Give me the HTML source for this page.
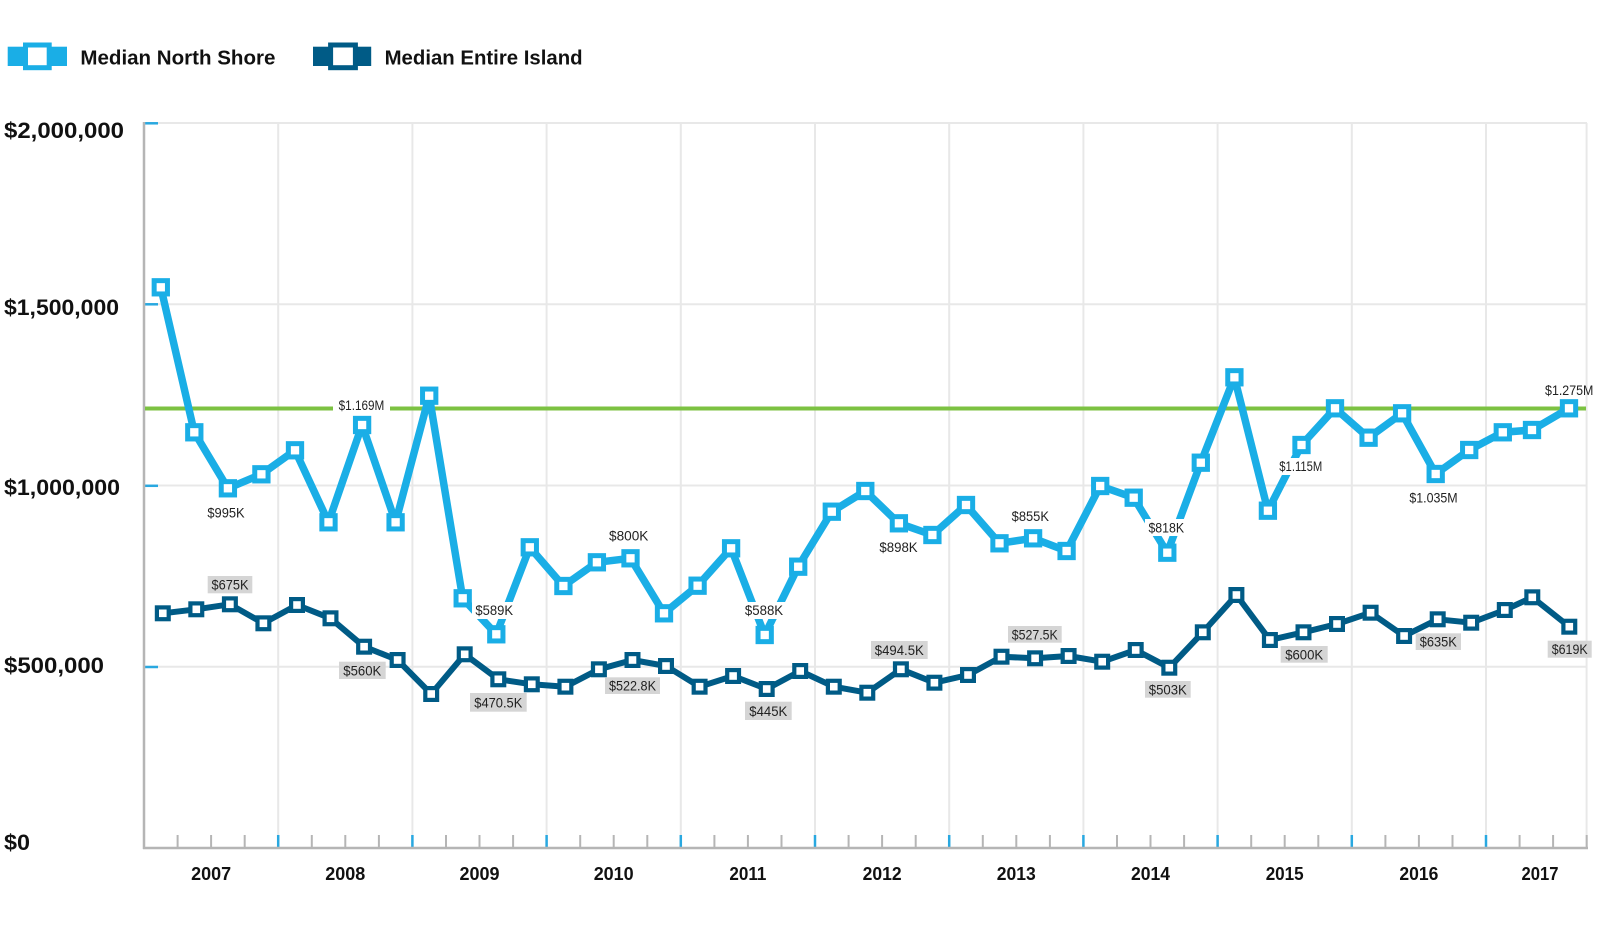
<!DOCTYPE html>
<html><head><meta charset="utf-8"><style>
html,body{margin:0;padding:0;background:#fff;}
svg{display:block;font-family:"Liberation Sans",Arial,sans-serif;}
</style></head><body>
<svg width="1600" height="927" viewBox="0 0 1600 927" xmlns="http://www.w3.org/2000/svg">
<defs>
<marker id="mL" markerWidth="30" markerHeight="30" refX="15" refY="15" markerUnits="userSpaceOnUse" overflow="visible"><rect x="8.35" y="8.35" width="13.3" height="13.3" fill="#fff" stroke="#1aaee6" stroke-width="5"/></marker>
<marker id="mD" markerWidth="30" markerHeight="30" refX="15" refY="15" markerUnits="userSpaceOnUse" overflow="visible"><rect x="9.1" y="9.1" width="11.8" height="11.8" fill="#fff" stroke="#005b86" stroke-width="4.2"/></marker>
</defs>
<rect width="1600" height="927" fill="#fff"/>

<!-- legend -->
<rect x="7.7" y="46.7" width="59.3" height="19.3" fill="#1aaee6"/>
<rect x="25.5" y="45" width="23.7" height="22.7" fill="#fff" stroke="#1aaee6" stroke-width="5"/>
<text x="80.4" y="64.3" font-size="20.5" font-weight="bold" fill="#111" textLength="195" lengthAdjust="spacingAndGlyphs">Median North Shore</text>
<rect x="313" y="46.7" width="58.2" height="19.3" fill="#005b86"/>
<rect x="330.6" y="45" width="24.8" height="22.7" fill="#fff" stroke="#005b86" stroke-width="5"/>
<text x="384.6" y="64.3" font-size="20.5" font-weight="bold" fill="#111" textLength="198" lengthAdjust="spacingAndGlyphs">Median Entire Island</text>

<!-- gridlines -->
<g stroke="#e8e8e8" stroke-width="2">
<line x1="144" y1="123" x2="1587" y2="123"/>
<line x1="144" y1="304.3" x2="1587" y2="304.3"/>
<line x1="144" y1="485.5" x2="1587" y2="485.5"/>
<line x1="144" y1="666.8" x2="1587" y2="666.8"/>
<line x1="278.2" y1="123" x2="278.2" y2="848"/>
<line x1="412.4" y1="123" x2="412.4" y2="848"/>
<line x1="546.6" y1="123" x2="546.6" y2="848"/>
<line x1="680.8" y1="123" x2="680.8" y2="848"/>
<line x1="815" y1="123" x2="815" y2="848"/>
<line x1="949.2" y1="123" x2="949.2" y2="848"/>
<line x1="1083.4" y1="123" x2="1083.4" y2="848"/>
<line x1="1217.6" y1="123" x2="1217.6" y2="848"/>
<line x1="1351.8" y1="123" x2="1351.8" y2="848"/>
<line x1="1486" y1="123" x2="1486" y2="848"/>
<line x1="1586.6" y1="123" x2="1586.6" y2="848"/>
</g>

<!-- y-axis blue ticks -->
<g stroke="#29a8e0" stroke-width="2.5">
<line x1="144" y1="123.3" x2="158" y2="123.3"/>
<line x1="144" y1="304.3" x2="158" y2="304.3"/>
<line x1="144" y1="485.8" x2="158" y2="485.8"/>
<line x1="144" y1="667" x2="158" y2="667"/>
</g>

<!-- x ticks -->
<g stroke="#b5b5b5" stroke-width="2">
<line x1="177.6" y1="835" x2="177.6" y2="848"/><line x1="211.1" y1="835" x2="211.1" y2="848"/><line x1="244.7" y1="835" x2="244.7" y2="848"/>
<line x1="311.8" y1="835" x2="311.8" y2="848"/><line x1="345.3" y1="835" x2="345.3" y2="848"/><line x1="378.9" y1="835" x2="378.9" y2="848"/>
<line x1="446" y1="835" x2="446" y2="848"/><line x1="479.5" y1="835" x2="479.5" y2="848"/><line x1="513.1" y1="835" x2="513.1" y2="848"/>
<line x1="580.2" y1="835" x2="580.2" y2="848"/><line x1="613.7" y1="835" x2="613.7" y2="848"/><line x1="647.3" y1="835" x2="647.3" y2="848"/>
<line x1="714.4" y1="835" x2="714.4" y2="848"/><line x1="747.9" y1="835" x2="747.9" y2="848"/><line x1="781.5" y1="835" x2="781.5" y2="848"/>
<line x1="848.6" y1="835" x2="848.6" y2="848"/><line x1="882.1" y1="835" x2="882.1" y2="848"/><line x1="915.7" y1="835" x2="915.7" y2="848"/>
<line x1="982.8" y1="835" x2="982.8" y2="848"/><line x1="1016.3" y1="835" x2="1016.3" y2="848"/><line x1="1049.9" y1="835" x2="1049.9" y2="848"/>
<line x1="1117" y1="835" x2="1117" y2="848"/><line x1="1150.5" y1="835" x2="1150.5" y2="848"/><line x1="1184.1" y1="835" x2="1184.1" y2="848"/>
<line x1="1251.2" y1="835" x2="1251.2" y2="848"/><line x1="1284.7" y1="835" x2="1284.7" y2="848"/><line x1="1318.3" y1="835" x2="1318.3" y2="848"/>
<line x1="1385.4" y1="835" x2="1385.4" y2="848"/><line x1="1418.9" y1="835" x2="1418.9" y2="848"/><line x1="1452.5" y1="835" x2="1452.5" y2="848"/>
<line x1="1519.6" y1="835" x2="1519.6" y2="848"/><line x1="1553.1" y1="835" x2="1553.1" y2="848"/><line x1="1586.7" y1="835" x2="1586.7" y2="848"/>
</g>
<g stroke="#29a8e0" stroke-width="2.5">
<line x1="278.2" y1="835" x2="278.2" y2="848"/><line x1="412.4" y1="835" x2="412.4" y2="848"/><line x1="546.6" y1="835" x2="546.6" y2="848"/>
<line x1="680.8" y1="835" x2="680.8" y2="848"/><line x1="815" y1="835" x2="815" y2="848"/><line x1="949.2" y1="835" x2="949.2" y2="848"/>
<line x1="1083.4" y1="835" x2="1083.4" y2="848"/><line x1="1217.6" y1="835" x2="1217.6" y2="848"/><line x1="1351.8" y1="835" x2="1351.8" y2="848"/>
<line x1="1486" y1="835" x2="1486" y2="848"/>
</g>

<!-- axes -->
<line x1="144" y1="122" x2="144" y2="849" stroke="#b5b5b5" stroke-width="2.5"/>
<line x1="143" y1="848" x2="1588" y2="848" stroke="#b5b5b5" stroke-width="2.5"/>

<!-- y labels -->
<g font-size="22" font-weight="bold" fill="#111">
<text x="4" y="138" textLength="120" lengthAdjust="spacingAndGlyphs">$2,000,000</text>
<text x="4" y="315" textLength="115" lengthAdjust="spacingAndGlyphs">$1,500,000</text>
<text x="4" y="495" textLength="116" lengthAdjust="spacingAndGlyphs">$1,000,000</text>
<text x="4" y="673" textLength="100" lengthAdjust="spacingAndGlyphs">$500,000</text>
<text x="4" y="850" textLength="26" lengthAdjust="spacingAndGlyphs">$0</text>
</g>

<!-- x labels -->
<g font-size="18" font-weight="bold" fill="#111" text-anchor="middle">
<text x="211.1" y="880" textLength="40" lengthAdjust="spacingAndGlyphs">2007</text>
<text x="345.3" y="880" textLength="40" lengthAdjust="spacingAndGlyphs">2008</text>
<text x="479.5" y="880" textLength="40" lengthAdjust="spacingAndGlyphs">2009</text>
<text x="613.7" y="880" textLength="40" lengthAdjust="spacingAndGlyphs">2010</text>
<text x="747.9" y="880" textLength="37" lengthAdjust="spacingAndGlyphs">2011</text>
<text x="882.1" y="880" textLength="39" lengthAdjust="spacingAndGlyphs">2012</text>
<text x="1016.3" y="880" textLength="39" lengthAdjust="spacingAndGlyphs">2013</text>
<text x="1150.5" y="880" textLength="39" lengthAdjust="spacingAndGlyphs">2014</text>
<text x="1284.7" y="880" textLength="38" lengthAdjust="spacingAndGlyphs">2015</text>
<text x="1418.9" y="880" textLength="39" lengthAdjust="spacingAndGlyphs">2016</text>
<text x="1540" y="880" textLength="37" lengthAdjust="spacingAndGlyphs">2017</text>
</g>

<!-- green reference line -->
<line x1="145" y1="408.5" x2="1586" y2="408.5" stroke="#7cc242" stroke-width="4"/>

<!-- dark series -->
<polyline fill="none" stroke="#005b86" stroke-width="6" stroke-linejoin="round" marker-start="url(#mD)" marker-mid="url(#mD)" marker-end="url(#mD)" points="162.8,613.3 196.3,609.3 229.9,604.3 263.4,623.3 297,605 330.5,618.3 364.1,646.7 397.6,660 431.2,694 464.7,654.3 498.3,679.3 531.8,684.3 565.4,686.7 598.9,669.3 632.5,660 666,666 699.6,686.7 733.1,676 766.7,689 800.2,671 833.8,686.7 867.3,692.7 900.9,669.3 934.4,682.7 968,675 1001.5,656.7 1035.1,658.3 1068.6,656 1102.2,661.7 1135.7,650 1169.3,667.7 1202.8,632.3 1236.4,595 1269.9,640 1303.5,632.3 1337,624 1370.6,612.7 1404.1,636 1437.7,619.3 1471.2,622.7 1504.8,610 1532.3,597.3 1569.3,626.7"/>

<!-- light series line -->
<polyline fill="none" stroke="#1aaee6" stroke-width="7.5" stroke-linejoin="round" points="160.8,287.3 194.3,432.3 227.9,488.3 261.4,474.3 295,450.3 328.5,522.3 362.1,425 395.6,522.3 429.2,395.7 462.7,598.3 496.3,634.3 529.8,547.3 563.4,586 596.9,562.3 630.5,558.3 664,613.3 697.6,585.7 731.1,548.3 764.7,635 798.2,566.7 831.8,511.7 865.3,491 898.9,523.3 932.4,535 966,505 999.5,543.3 1033.1,538.3 1066.6,551 1100.2,486 1133.7,497.7 1167.3,552.7 1200.8,462.7 1234.4,377.3 1267.9,510.7 1301.5,445 1335,408.3 1368.6,437.7 1402.1,413.3 1435.7,474 1469.2,450 1502.8,432.3 1532,430 1569,408.3"/>

<!-- white label backgrounds -->
<g fill="#fff">
<rect x="333" y="397" width="57" height="17"/>
<rect x="472" y="602" width="45" height="17"/>
<rect x="742" y="602" width="45" height="17"/>
<rect x="1145" y="519" width="43" height="17"/>
<rect x="1277" y="458" width="48" height="17"/>
</g>

<!-- light markers -->
<polyline fill="none" stroke="none" marker-start="url(#mL)" marker-mid="url(#mL)" marker-end="url(#mL)" points="160.8,287.3 194.3,432.3 227.9,488.3 261.4,474.3 295,450.3 328.5,522.3 362.1,425 395.6,522.3 429.2,395.7 462.7,598.3 496.3,634.3 529.8,547.3 563.4,586 596.9,562.3 630.5,558.3 664,613.3 697.6,585.7 731.1,548.3 764.7,635 798.2,566.7 831.8,511.7 865.3,491 898.9,523.3 932.4,535 966,505 999.5,543.3 1033.1,538.3 1066.6,551 1100.2,486 1133.7,497.7 1167.3,552.7 1200.8,462.7 1234.4,377.3 1267.9,510.7 1301.5,445 1335,408.3 1368.6,437.7 1402.1,413.3 1435.7,474 1469.2,450 1502.8,432.3 1532,430 1569,408.3"/>

<!-- gray label boxes -->
<g fill="#d5d5d5">
<rect x="207.7" y="576" width="44.6" height="17.3"/>
<rect x="339" y="661.7" width="46.7" height="17.3"/>
<rect x="470" y="693" width="56.7" height="18.7"/>
<rect x="605" y="677.3" width="55" height="16.7"/>
<rect x="745" y="701.7" width="46.7" height="18.3"/>
<rect x="871" y="641" width="56.7" height="18"/>
<rect x="1008" y="626" width="53.7" height="16.7"/>
<rect x="1145" y="681" width="45.7" height="16.7"/>
<rect x="1280.7" y="646" width="47" height="16.7"/>
<rect x="1415.7" y="633.3" width="45.3" height="16.7"/>
<rect x="1547.7" y="640.7" width="44" height="17"/>
</g>

<!-- value labels -->
<g font-size="14" fill="#222" text-anchor="middle">
<text x="226" y="517.3" textLength="37.3" lengthAdjust="spacingAndGlyphs">$995K</text>
<text x="361.5" y="410" textLength="45.7" lengthAdjust="spacingAndGlyphs">$1.169M</text>
<text x="494.2" y="615" textLength="37.7" lengthAdjust="spacingAndGlyphs">$589K</text>
<text x="628.7" y="540.5" textLength="39.3" lengthAdjust="spacingAndGlyphs">$800K</text>
<text x="764" y="615" textLength="38.3" lengthAdjust="spacingAndGlyphs">$588K</text>
<text x="898.5" y="552" textLength="38.3" lengthAdjust="spacingAndGlyphs">$898K</text>
<text x="1030.3" y="521" textLength="37.3" lengthAdjust="spacingAndGlyphs">$855K</text>
<text x="1166.3" y="532.3" textLength="35.7" lengthAdjust="spacingAndGlyphs">$818K</text>
<text x="1300.8" y="471" textLength="43" lengthAdjust="spacingAndGlyphs">$1.115M</text>
<text x="1433.5" y="502.3" textLength="48.3" lengthAdjust="spacingAndGlyphs">$1.035M</text>
<text x="1569.2" y="395" textLength="48.3" lengthAdjust="spacingAndGlyphs">$1.275M</text>

<text x="230" y="589.7" textLength="37" lengthAdjust="spacingAndGlyphs">$675K</text>
<text x="362.3" y="675.3" textLength="38" lengthAdjust="spacingAndGlyphs">$560K</text>
<text x="498.3" y="707.3" textLength="48" lengthAdjust="spacingAndGlyphs">$470.5K</text>
<text x="632.5" y="690.7" textLength="47" lengthAdjust="spacingAndGlyphs">$522.8K</text>
<text x="768.3" y="716" textLength="38" lengthAdjust="spacingAndGlyphs">$445K</text>
<text x="899.3" y="655" textLength="49" lengthAdjust="spacingAndGlyphs">$494.5K</text>
<text x="1034.8" y="639.3" textLength="46" lengthAdjust="spacingAndGlyphs">$527.5K</text>
<text x="1167.8" y="694.3" textLength="38" lengthAdjust="spacingAndGlyphs">$503K</text>
<text x="1304.2" y="659.3" textLength="38" lengthAdjust="spacingAndGlyphs">$600K</text>
<text x="1438.3" y="646.7" textLength="37" lengthAdjust="spacingAndGlyphs">$635K</text>
<text x="1569.7" y="654.2" textLength="36" lengthAdjust="spacingAndGlyphs">$619K</text>
</g>
</svg>
</body></html>
